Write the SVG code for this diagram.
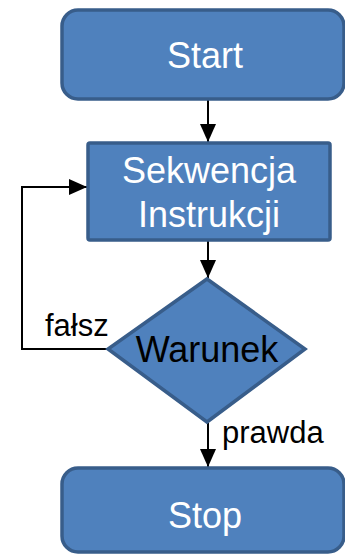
<svg xmlns="http://www.w3.org/2000/svg" width="345" height="555" viewBox="0 0 345 555">
  <style>
    .shape { fill: #4F81BD; stroke: #385D8A; stroke-width: 3.5; }
    .lbl { font-family: "Liberation Sans", Arial, sans-serif; font-size: 36px; text-anchor: middle; }
    .white { fill: #FFFFFF; }
    .dark { fill: #000000; }
    .edge { font-family: "Liberation Sans", Arial, sans-serif; font-size: 31px; fill: #000000; }
    .conn { fill: none; stroke: #000000; stroke-width: 2; }
  </style>
  <defs>
    <marker id="arrow" markerWidth="18" markerHeight="16" refX="18" refY="8" orient="auto" markerUnits="userSpaceOnUse" viewBox="0 0 18 16">
      <path d="M0,0 L18,8 L0,16 Z" fill="#000000"/>
    </marker>
  </defs>

  <rect width="345" height="555" fill="#FFFFFF"/>

  <!-- connectors -->
  <g id="connectors">
    <line class="conn" x1="208" y1="100" x2="208" y2="142" marker-end="url(#arrow)"/>
    <line class="conn" x1="208" y1="241" x2="208" y2="278" marker-end="url(#arrow)"/>
    <line class="conn" x1="208" y1="423" x2="208" y2="467" marker-end="url(#arrow)"/>
    <polyline class="conn" points="108,349 22,349 22,187 87,187" marker-end="url(#arrow)"/>
    <text class="edge" x="45" y="336">fałsz</text>
    <text class="edge" x="222" y="443">prawda</text>
  </g>

  <g id="start">
    <rect class="shape" x="62" y="10" width="282" height="89" rx="16"/>
    <text class="lbl white" x="205" y="68">Start</text>
  </g>

  <g id="sekwencja">
    <rect class="shape" x="88" y="143" width="242" height="97" rx="2"/>
    <text class="lbl white" x="209" y="183">Sekwencja</text>
    <text class="lbl white" x="209" y="227">Instrukcji</text>
  </g>

  <g id="warunek">
    <polygon class="shape" points="207,279 305,349 207,422 108,349"/>
    <text class="lbl dark" x="207" y="362">Warunek</text>
  </g>

  <g id="stop">
    <rect class="shape" x="62" y="468" width="282" height="84" rx="16"/>
    <text class="lbl white" x="205" y="528">Stop</text>
  </g>
</svg>
